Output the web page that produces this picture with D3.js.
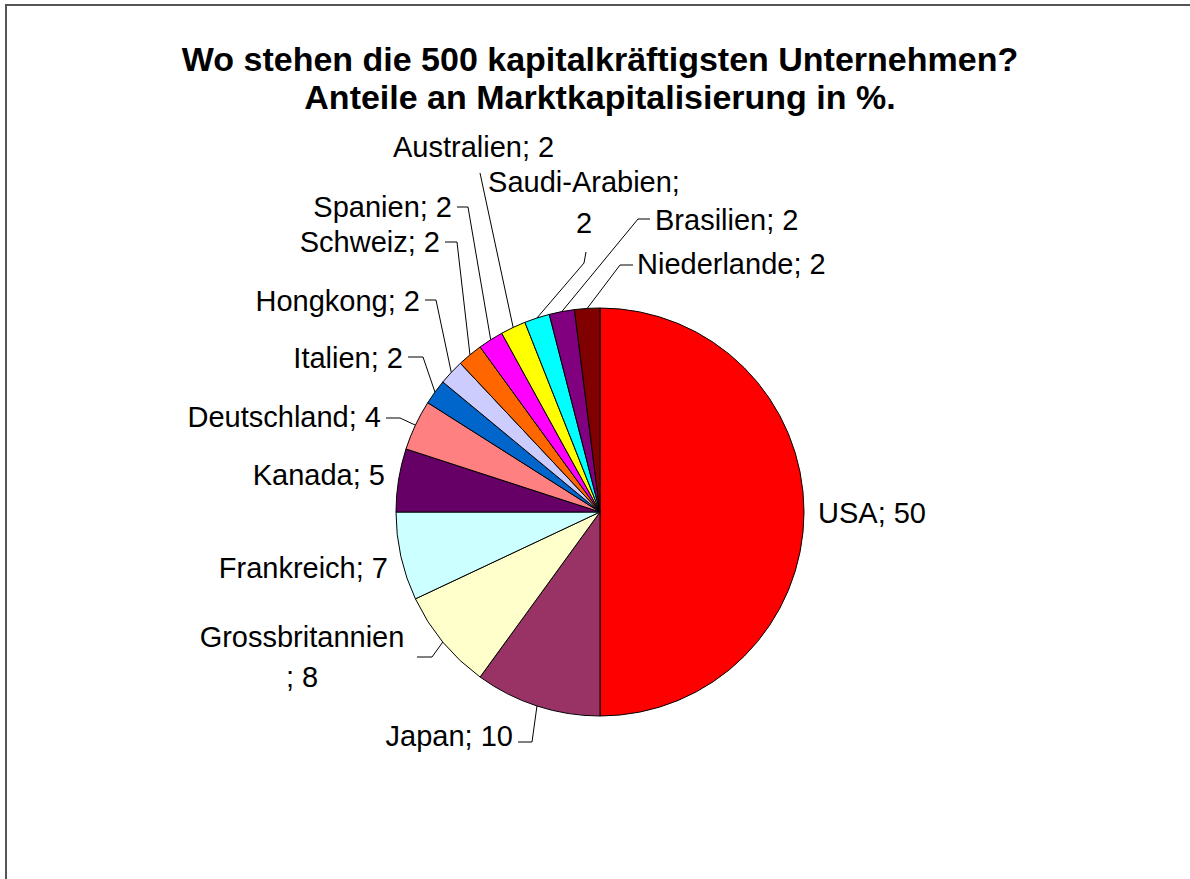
<!DOCTYPE html>
<html lang="de">
	<head>
		<meta charset="utf-8">
		<title>Marktkapitalisierung</title>
		<script type="text/javascript" src="https://cdn.jsdelivr.net/npm/d3@7"></script>
		<style type="text/css">
			body { margin: 0; background: #fff; }
			text { font-family: "Liberation Sans", Arial, sans-serif; fill: #000; }
			.title { font-size: 34px; font-weight: bold; }
			.label { font-size: 29px; }
			.leader { fill: none; stroke: #000; stroke-width: 1; }
		</style>
	</head>
	<body>
		<script type="text/javascript">

			var w = 1190;
			var h = 879;

			// Data
			var countries = ["USA", "Japan", "Grossbritannien", "Frankreich", "Kanada", "Deutschland",
							 "Italien", "Hongkong", "Schweiz", "Spanien", "Australien", "Saudi-Arabien",
							 "Brasilien", "Niederlande"];
			var shares = [50, 10, 8, 7, 5, 4, 2, 2, 2, 2, 2, 2, 2, 2];
			var colors = ["#ff0000", "#993366", "#ffffcc", "#ccffff", "#660066", "#ff8080",
						  "#0066cc", "#ccccff", "#ff6600", "#ff00ff", "#ffff00", "#00ffff",
						  "#800080", "#800000"];
			var titleLines = ["Wo stehen die 500 kapitalkräftigsten Unternehmen?",
							  "Anteile an Marktkapitalisierung in %."];

			// Label layout (Excel placed these by hand): text position, anchor, line breaks, leader attach/elbow
			var labelLayout = [
				{x: 818, y: 523, anchor: "start"},
				{x: 513, y: 746, anchor: "end", leader: [[518, 742], [532, 742]]},
				{x: 302, y: 647, anchor: "middle", split: 15, dy: 40, leader: [[417, 657], [432, 657]]},
				{x: 388, y: 578, anchor: "end"},
				{x: 385, y: 485, anchor: "end"},
				{x: 381, y: 427, anchor: "end", leader: [[386, 418], [400, 418]]},
				{x: 403, y: 368, anchor: "end", leader: [[408, 357], [423, 357]]},
				{x: 420, y: 311, anchor: "end", leader: [[425, 300], [436, 300]]},
				{x: 440, y: 252, anchor: "end", leader: [[445, 242], [457, 242]]},
				{x: 452, y: 217, anchor: "end", leader: [[457, 207], [468, 207]]},
				{x: 393, y: 157, anchor: "start", leader: [[480, 173], [480, 173]]},
				{x: 584, y: 192, anchor: "middle", split: 14, dy: 41, leader: [[586, 252], [584, 263]]},
				{x: 655, y: 230, anchor: "start", leader: [[650, 219], [638, 219]]},
				{x: 637, y: 274, anchor: "start", leader: [[633, 265], [620, 265]]}
			];

			var cx = 600, cy = 512, radius = 204;

			var svg = d3.select("body")
						.append("svg")
						.attr("width", w)
						.attr("height", h);

			// frame (top and left edges only visible)
			svg.append("path")
				.attr("d", "M6,879V5H1190")
				.attr("fill", "none")
				.attr("stroke", "#555")
				.attr("stroke-width", 2);

			// title
			svg.selectAll("text.title")
				.data(titleLines)
				.enter()
				.append("text")
				.attr("class", "title")
				.attr("x", 600)
				.attr("y", function(d, i) { return 71 + i * 38; })
				.attr("text-anchor", "middle")
				.text(function(d) { return d; });

			var data = countries.map(function(c, i) {
				return {name: c, value: shares[i], color: colors[i], layout: labelLayout[i]};
			});

			var pie = d3.pie()
						.sort(null)
						.value(function(d) { return d.value; });

			var arc = d3.arc()
						.innerRadius(0)
						.outerRadius(radius);

			var edgeArc = d3.arc()
						.innerRadius(radius)
						.outerRadius(radius);

			var arcs = pie(data);

			var g = svg.append("g")
						.attr("transform", "translate(" + cx + "," + cy + ")");

			g.selectAll("path.slice")
				.data(arcs)
				.enter()
				.append("path")
				.attr("class", "slice")
				.attr("d", arc)
				.attr("fill", function(d) { return d.data.color; })
				.attr("stroke", "#000")
				.attr("stroke-width", 1)
				.attr("stroke-linejoin", "round");

			// leader lines from the slice edge to the label
			svg.selectAll("path.leader")
				.data(arcs.filter(function(d) { return d.data.layout.leader; }))
				.enter()
				.append("path")
				.attr("class", "leader")
				.attr("d", function(d) {
					var p = edgeArc.centroid(d);
					var l = d.data.layout.leader;
					return "M" + l[0][0] + "," + l[0][1] +
						   "L" + l[1][0] + "," + l[1][1] +
						   "L" + (cx + p[0]) + "," + (cy + p[1]);
				});

			// data labels
			var labels = svg.selectAll("text.label")
				.data(arcs)
				.enter()
				.append("text")
				.attr("class", "label")
				.attr("text-anchor", function(d) { return d.data.layout.anchor; });

			labels.each(function(d) {
				var lay = d.data.layout;
				var full = d.data.name + "; " + d.data.value;
				var parts = lay.split ? [full.slice(0, lay.split), full.slice(lay.split).trim()] : [full];
				d3.select(this).selectAll("tspan")
					.data(parts)
					.enter()
					.append("tspan")
					.attr("x", lay.x)
					.attr("y", function(t, i) { return lay.y + i * (lay.dy || 0); })
					.text(function(t) { return t; });
			});

		</script>
	</body>
</html>
